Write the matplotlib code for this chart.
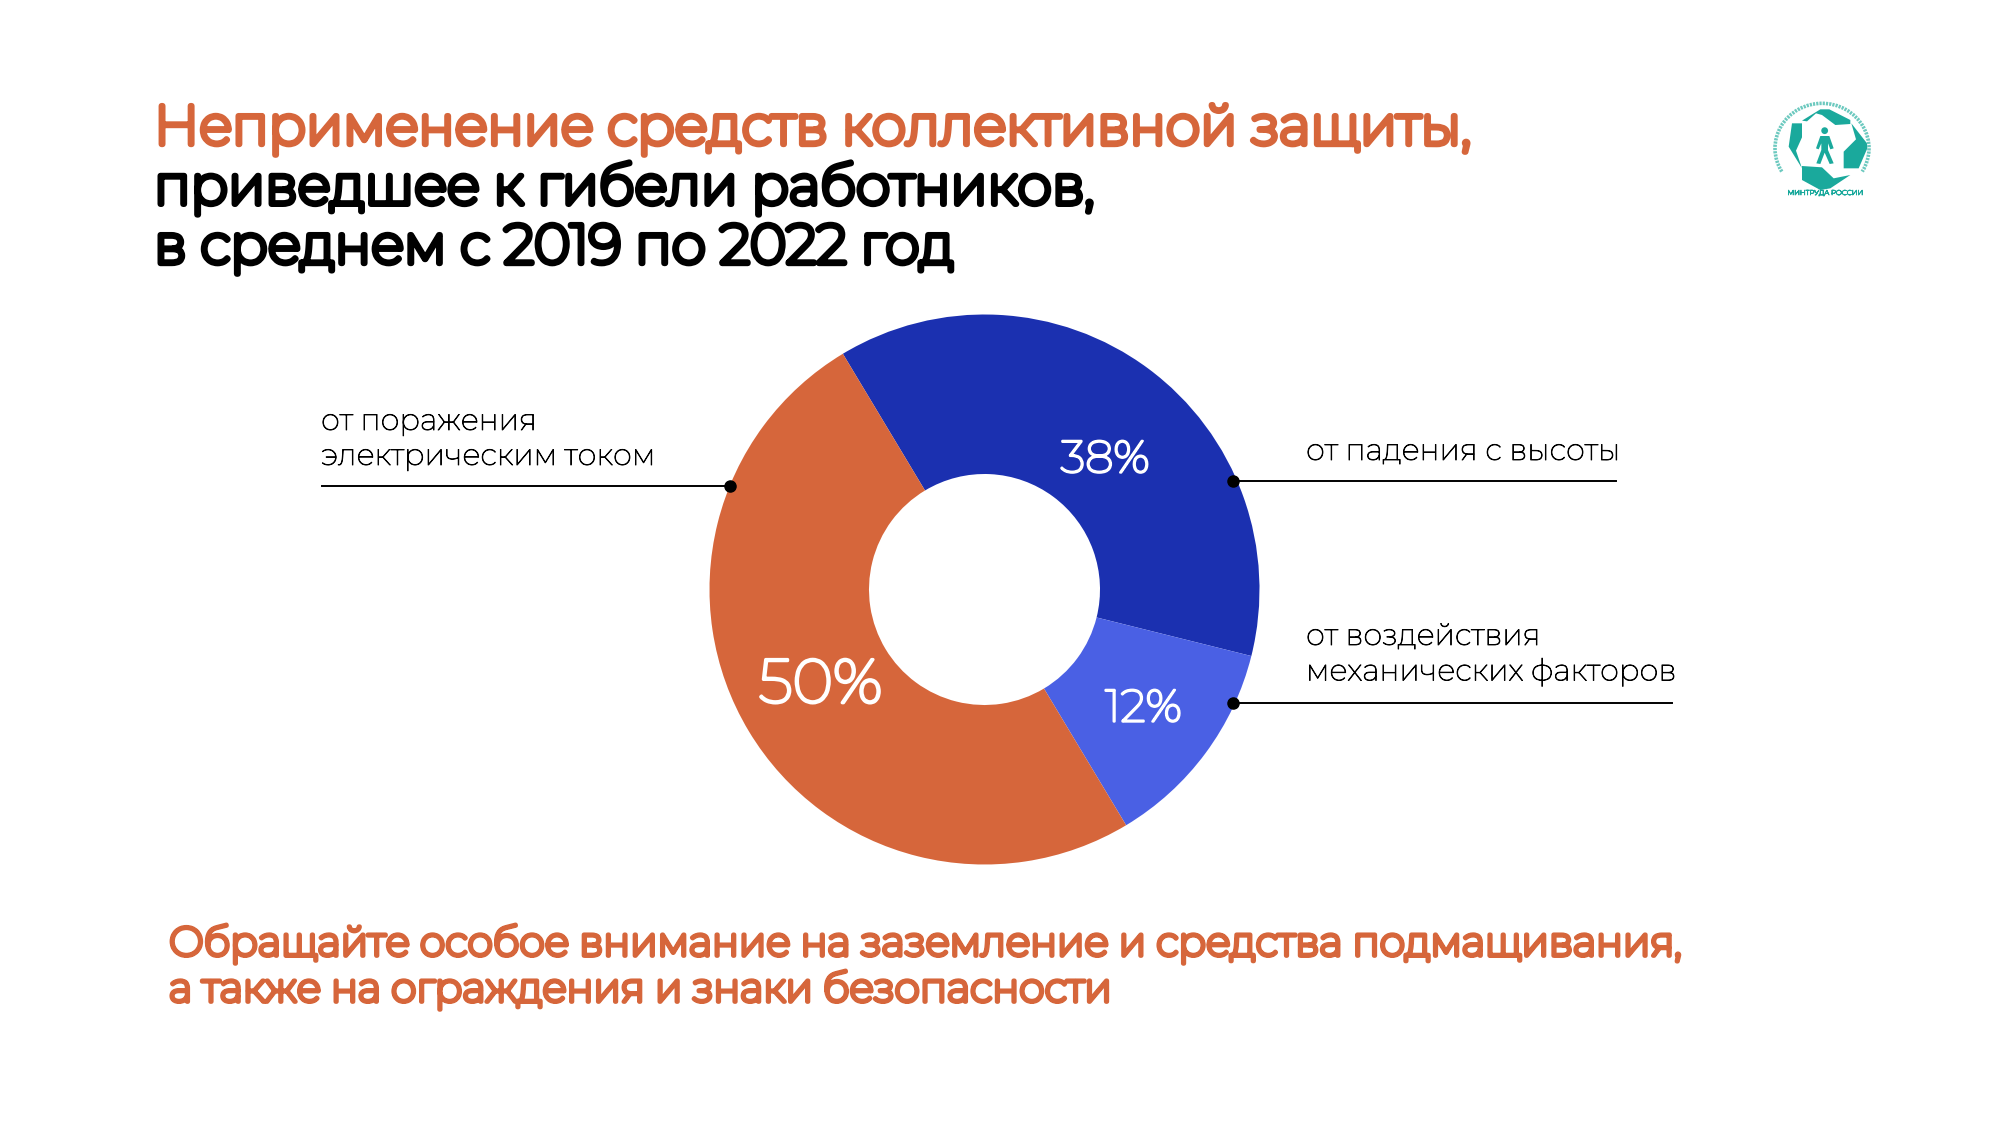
import numpy as np
import matplotlib
matplotlib.use('Agg')
from matplotlib import pyplot as plt
from matplotlib import patheffects as pe
from matplotlib.patches import Arc, Circle, Polygon

# only a thin Montserrat is installed, so weight is added with a stroke
plt.rcParams['font.family'] = ['Montserrat', 'Open Sans', 'DejaVu Sans']

shares = [37.5, 12.5, 50]
colors = ['#1b30b0', '#4a60e4', '#d6663b']
value_labels = ['38%', '12%', '50%']
title_lines = ['Неприменение средств коллективной защиты,',
               'приведшее к гибели работников,',
               'в среднем с 2019 по 2022 год']
footer_lines = ['Обращайте особое внимание на заземление и средства подмащивания,',
                'а также на ограждения и знаки безопасности']
orange = '#d6663b'
teal = '#1aa99c'


def heavy(lw, color):
    return [pe.withStroke(linewidth=lw, foreground=color)]


fig = plt.figure(figsize=(20, 11.25), dpi=100)

# donut
px = fig.add_axes([709.5 / 2000, 1 - 864.5 / 1125, 550 / 2000, 550 / 1125])
px.pie(shares, colors=colors, startangle=121, counterclock=False,
       radius=1.0, wedgeprops=dict(width=0.58))
px.set_xlim(-1, 1)
px.set_ylim(-1, 1)

ax = fig.add_axes([0, 0, 1, 1])
ax.set_xlim(0, 2000)
ax.set_ylim(1125, 0)
ax.axis('off')
ax.patch.set_alpha(0)

# titles
ax.text(154, 129, title_lines[0], fontsize=39.5, color=orange, va='center', path_effects=heavy(4.2, orange))
ax.text(154, 188, title_lines[1], fontsize=39.5, color='black', va='center', path_effects=heavy(4.2, 'black'))
ax.text(154, 248, title_lines[2], fontsize=39.5, color='black', va='center', path_effects=heavy(4.2, 'black'))
ax.text(169, 944, footer_lines[0], fontsize=29.2, color=orange, va='center', path_effects=heavy(3.2, orange))
ax.text(169, 990, footer_lines[1], fontsize=29.2, color=orange, va='center', path_effects=heavy(3.2, orange))

# value labels
ax.text(1105, 460, value_labels[0], color='white', fontsize=32.5, ha='center', va='center', path_effects=heavy(1.7, 'white'))
ax.text(1143.5, 709, value_labels[1], color='white', fontsize=32.5, ha='center', va='center', path_effects=heavy(1.7, 'white'))
ax.text(820.5, 686, value_labels[2], color='white', fontsize=44.5, ha='center', va='center', path_effects=heavy(2.3, 'white'))

# callouts
ax.plot([321.5, 729.5], [486, 486], color='black', lw=1.4)
ax.plot([729.5], [486], 'o', color='black', ms=8)
ax.plot([1233, 1616], [481, 481], color='black', lw=1.4)
ax.plot([1233], [481], 'o', color='black', ms=8)
ax.plot([1233, 1672], [703, 703], color='black', lw=1.4)
ax.plot([1233], [703], 'o', color='black', ms=8)
for x, y, s in [(321, 422, 'от поражения'), (321, 457, 'электрическим током'),
                (1306, 452, 'от падения с высоты'), (1306, 637, 'от воздействия'),
                (1306, 672, 'механических факторов')]:
    ax.text(x, y, s, fontsize=21.7, color='black', va='center', path_effects=heavy(0.6, 'black'))


# logo, shapes traced roughly from the zoomed crop
def logo(points):
    return [(1742 + a / 3, 80 + b / 3) for a, b in points]


hands = [
    [(180, 122), (235, 88), (262, 88), (325, 120), (325, 132), (280, 135), (240, 105), (222, 100), (195, 124)],
    [(328, 130), (375, 190), (376, 205), (350, 265), (305, 265), (305, 215), (342, 178)],
    [(180, 258), (240, 262), (275, 295), (325, 285), (265, 325), (235, 330), (180, 300)],
    [(180, 130), (150, 130), (140, 200), (180, 265), (162, 212), (180, 172)],
]
for hand in hands:
    ax.add_patch(Polygon(logo(hand), closed=True, fc=teal, ec='none'))
person = [(235, 168), (262, 168), (275, 205), (265, 208), (258, 190), (258, 210), (275, 250), (263, 252),
          (248, 218), (235, 252), (223, 250), (238, 210), (238, 190), (230, 208), (222, 205)]
ax.add_patch(Polygon(logo(person), closed=True, fc=teal, ec='none'))
ax.add_patch(Circle(logo([(248, 152)])[0], 3.4, fc=teal, ec='none'))
# ring of tiny lettering is illegible at this size, so a fine dashed arc stands in for it
ax.add_patch(Arc(logo([(240, 205)])[0], 94, 90, theta1=150, theta2=30, color='#6cc9bf', lw=2.6, ls=(0, (0.6, 0.3))))
ax.text(1826, 193, 'МИНТРУДА РОССИИ', fontsize=5, color=teal, ha='center', va='center', path_effects=heavy(0.6, teal))

fig.savefig('out.png', dpi=100)
